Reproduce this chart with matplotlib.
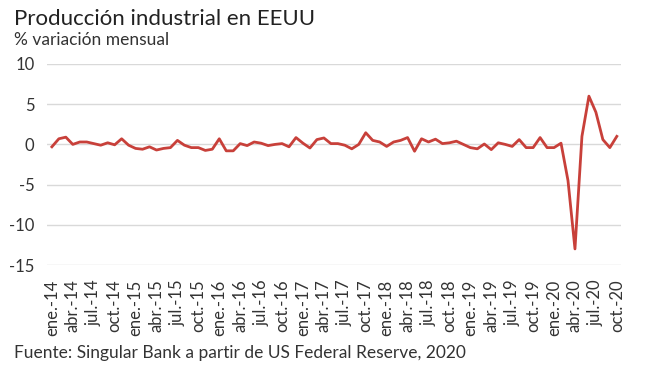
import matplotlib
matplotlib.use("Agg")
from matplotlib import pyplot as plt

plt.rcParams['font.family'] = ['Lato', 'DejaVu Sans']

# variación mensual producción industrial EEUU, ene-2014 a oct-2020
valores = [-0.3, 0.7, 0.9, 0.0, 0.3, 0.3, 0.1, -0.1, 0.2, -0.05, 0.7, -0.1,
           -0.5, -0.6, -0.3, -0.7, -0.5, -0.4, 0.5, -0.1, -0.4, -0.4, -0.75, -0.6,
           0.7, -0.8, -0.8, 0.1, -0.15, 0.3, 0.15, -0.15, 0.0, 0.1, -0.3, 0.85,
           0.15, -0.45, 0.6, 0.8, 0.1, 0.1, -0.1, -0.55, 0.0, 1.45, 0.5, 0.3,
           -0.25, 0.3, 0.5, 0.85, -0.85, 0.7, 0.3, 0.65, 0.1, 0.2, 0.4, 0.0,
           -0.4, -0.55, 0.05, -0.65, 0.2, 0.0, -0.25, 0.6, -0.4, -0.4, 0.85, -0.4,
           -0.4, 0.15, -4.5, -13.0, 1.0, 6.0, 4.0, 0.6, -0.4, 1.0]

meses = ['ene.', 'abr.', 'jul.', 'oct.']
etiquetas = [f'{m}-{a}' for a in range(14, 21) for m in meses]
posiciones = list(range(0, len(valores), 3))

fig = plt.figure(figsize=(6.5, 3.71), dpi=100)
ax = fig.add_axes([47/650, 1 - 265/371, (621 - 47)/650, (265 - 64)/371])

ax.plot(range(len(valores)), valores, color='#c8403a', lw=2, zorder=3)

ax.set_ylim(-15, 10)
ax.set_yticks([-15, -10, -5, 0, 5, 10])
ax.set_yticklabels(['-15', '-10', '-5', '0', '5', '10'])
ax.set_xlim(-0.7, 81.6)
ax.set_xticks(posiciones)
ax.set_xticklabels(etiquetas[:len(posiciones)], rotation=90, va='top', ha='center')

ax.grid(axis='y', color='#d9d9d9', lw=1)
ax.set_axisbelow(True)
for s in ax.spines.values():
    s.set_visible(False)
ax.tick_params(axis='both', length=0, labelsize=12, colors='#333333')
ax.tick_params(axis='y', pad=9)
ax.tick_params(axis='x', pad=10.5)

fig.text(14/650, 1 - 19/371, 'Producción industrial en EEUU', fontsize=16, color='#222222', va='center')
fig.text(14/650, 1 - 40/371, '% variación mensual', fontsize=12.5, color='#333333', va='center')
fig.text(14/650, 1 - 353/371, 'Fuente: Singular Bank a partir de US Federal Reserve, 2020',
         fontsize=12.5, color='#333333', va='center')

fig.savefig('out.png', dpi=100)
